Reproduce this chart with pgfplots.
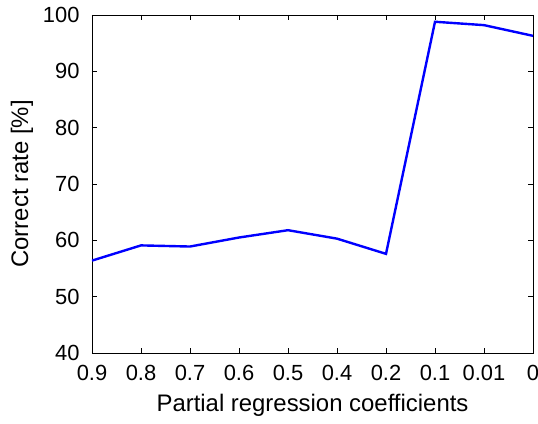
\documentclass[border=0pt]{standalone}
\usepackage{fontspec}
\setmainfont{Liberation Sans}
\usepackage{pgfplots}
\pgfplotsset{compat=1.18}
\begin{document}
\begin{tikzpicture}
\begin{axis}[
  scale only axis,
  width=441bp, height=338bp,
  xmin=0, xmax=9, ymin=40, ymax=100,
  xtick={0,...,9},
  xticklabels={0.9,0.8,0.7,0.6,0.5,0.4,0.2,0.1,0.01,0},
  ytick={40,50,...,100},
  tick align=inside,
  major tick length=5bp,
  tick style={black, line width=0.6pt},
  axis line style={black, line width=0.8pt},
  /pgf/number format/assume math mode=true,
  ticklabel style={font=\fontsize{22}{26}\selectfont},
  yticklabel style={xshift=-9bp},
  xticklabel style={yshift=-9bp},
  label style={font=\fontsize{24}{28}\selectfont},
  xlabel={Partial regression coefficients},
  ylabel={Correct rate [\%]},
  xlabel style={yshift=-6bp},
  ylabel style={yshift=3bp},
]
\addplot[color={rgb,255:red,0;green,0;blue,255}, line width=2.4bp] coordinates {
  (0,56.4) (1,59.1) (2,58.9) (3,60.5) (4,61.8)
  (5,60.3) (6,57.6) (7,98.8) (8,98.2) (9,96.3)
};
\end{axis}
\pgfresetboundingbox
\path[use as bounding box] (current axis.south west) ++(-92bp,-71bp) rectangle ++(538bp,424bp);
\end{tikzpicture}
\end{document}
